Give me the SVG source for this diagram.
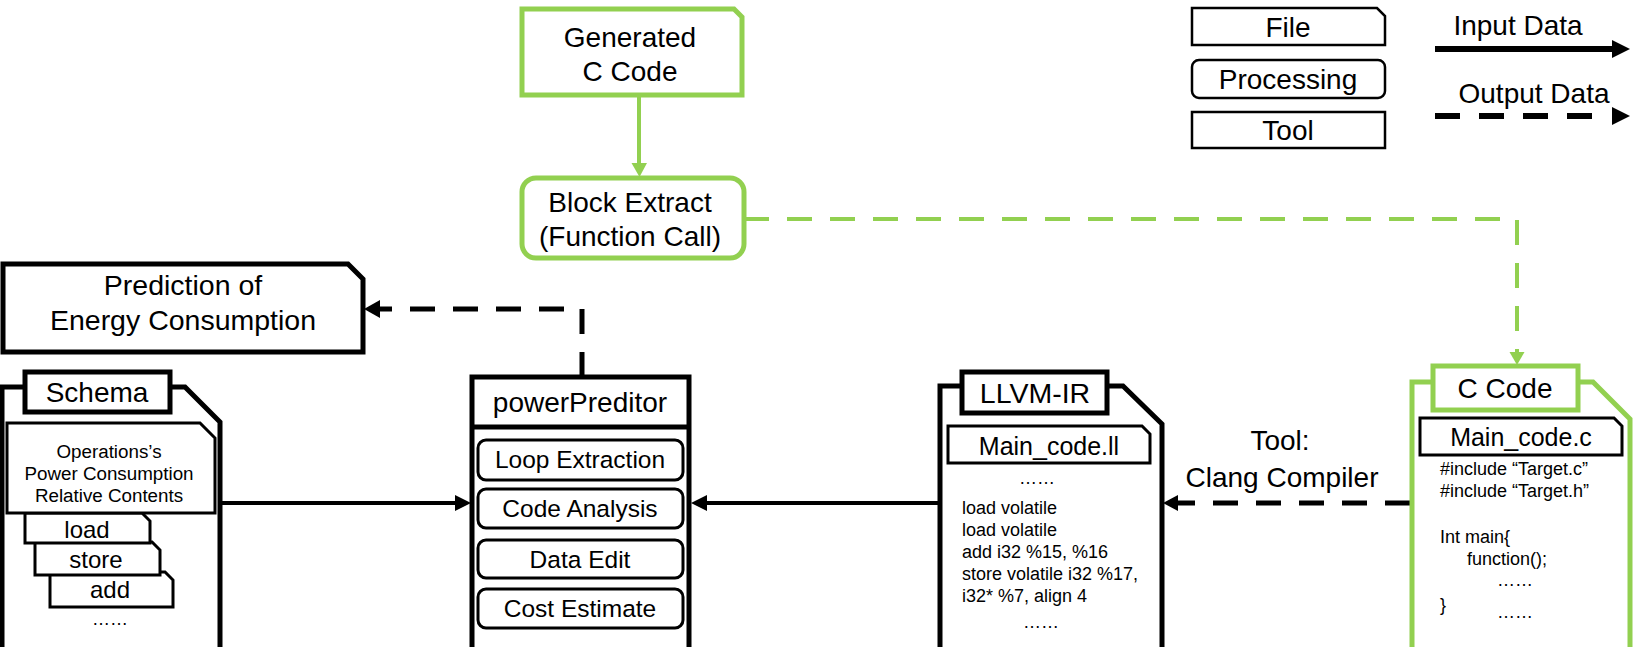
<svg xmlns="http://www.w3.org/2000/svg" width="1650" height="647" viewBox="0 0 1650 647">
<style>
text{font-family:"Liberation Sans",Arial,sans-serif;fill:#000}
.t28{font-size:28px;text-anchor:middle}
.t24{font-size:24.5px;text-anchor:middle}
.t18{font-size:18px}
.c18{font-size:18.8px;text-anchor:middle}
.blk{fill:#fff;stroke:#000;stroke-width:5;stroke-linejoin:miter}
.inr{fill:#fff;stroke:#000;stroke-width:3}
.lg{fill:#fff;stroke:#000;stroke-width:2.5}
.grn{fill:#fff;stroke:#92D050;stroke-width:5}
.ln{fill:none;stroke:#000;stroke-width:4}
.dsh{fill:none;stroke:#000;stroke-width:5;stroke-dasharray:25 18}
.gln{fill:none;stroke:#92D050;stroke-width:4}
.gdsh{fill:none;stroke:#92D050;stroke-width:4;stroke-dasharray:25 18}
.ah{fill:#000}
.gah{fill:#92D050}
</style>
<rect width="1650" height="647" fill="#fff"/>

<g id="legend">
<path class="lg" d="M1192,8 H1377 L1385,16 V45 H1192 Z"/>
<text class="t28" x="1288" y="37">File</text>
<rect class="lg" x="1192" y="60" width="193" height="38" rx="7"/>
<text class="t28" x="1288" y="89">Processing</text>
<rect class="lg" x="1192" y="112" width="193" height="36"/>
<text class="t28" x="1288" y="140">Tool</text>
<text class="t28" x="1518" y="35">Input Data</text>
<line x1="1435" y1="49" x2="1615" y2="49" stroke="#000" stroke-width="6"/>
<polygon class="ah" points="1612,40 1630,49 1612,58"/>
<text class="t28" x="1534" y="103">Output Data</text>
<line x1="1435" y1="116" x2="1600" y2="116" stroke="#000" stroke-width="6" stroke-dasharray="25 19"/>
<polygon class="ah" points="1612,107 1630,116 1612,125"/>
</g>

<g id="connectors">
<line class="gln" x1="639" y1="95" x2="639" y2="165"/>
<polygon class="gah" points="631.5,163 647,163 639.5,177"/>
<path class="gdsh" d="M744,219 H1517 V352"/>
<polygon class="gah" points="1509.5,352 1524.5,352 1517,365"/>
<line class="ln" x1="222" y1="503" x2="457" y2="503"/>
<polygon class="ah" points="455,495 471,503 455,511"/>
<line class="ln" x1="940" y1="503" x2="705" y2="503"/>
<polygon class="ah" points="707,495 691,503 707,511"/>
<path class="dsh" d="M1410,503 H1178"/>
<polygon class="ah" points="1178,495 1163,503 1178,511"/>
<path class="dsh" d="M582,377 V309 H378"/>
<polygon class="ah" points="380,300 364,309 380,318"/>
<text class="t28" x="1280" y="450">Tool:</text>
<text class="t28" x="1282" y="487">Clang Compiler</text>
</g>

<g id="generated">
<path class="grn" d="M522,9 H734 L742,17 V95 H522 Z"/>
<text class="t28" x="630" y="47">Generated</text>
<text class="t28" x="630" y="81">C Code</text>
</g>

<g id="block-extract">
<rect class="grn" x="522" y="178" width="222" height="80" rx="14"/>
<text class="t28" x="630" y="212">Block Extract</text>
<text class="t28" x="630" y="246">(Function Call)</text>
</g>

<g id="prediction">
<path class="blk" d="M3,264 H348 L363,279 V352 H3 Z"/>
<text class="t28" x="183" y="295" style="font-size:28.5px">Prediction of</text>
<text class="t28" x="183" y="330" style="font-size:28.5px">Energy Consumption</text>
</g>

<g id="schema">
<path class="blk" d="M2,660 V387 H185 L220,422 V660"/>
<rect class="blk" x="25" y="372" width="145" height="40"/>
<text class="t28" x="97" y="402">Schema</text>
<path class="inr" d="M50,572 H165 L173,580 V607 H50 Z"/>
<text class="t24" x="110" y="598" style="font-size:24px">add</text>
<path class="inr" d="M35,542 H152 L160,550 V575 H35 Z"/>
<text class="t24" x="96" y="568" style="font-size:24px">store</text>
<path class="inr" d="M25,513 H142 L150,521 V543 H25 Z"/>
<text class="t24" x="87" y="538" style="font-size:24px">load</text>
<path class="inr" d="M7,423 H200 L215,438 V513 H7 Z"/>
<text class="c18" x="109" y="458">Operations’s</text>
<text class="c18" x="109" y="480">Power Consumption</text>
<text class="c18" x="109" y="502">Relative Contents</text>
<text class="c18" x="110" y="625" style="font-size:18px">……</text>
</g>

<g id="power-preditor">
<rect class="blk" x="472" y="377" width="217" height="290"/>
<line x1="472" y1="427" x2="689" y2="427" stroke="#000" stroke-width="5"/>
<text class="t28" x="580" y="412">powerPreditor</text>
<rect class="inr" x="478" y="440" width="205" height="40" rx="8"/>
<text class="t24" x="580" y="468">Loop Extraction</text>
<rect class="inr" x="478" y="489" width="205" height="39" rx="8"/>
<text class="t24" x="580" y="517">Code Analysis</text>
<rect class="inr" x="478" y="540" width="205" height="38" rx="8"/>
<text class="t24" x="580" y="568">Data Edit</text>
<rect class="inr" x="478" y="589" width="205" height="39" rx="8"/>
<text class="t24" x="580" y="617">Cost Estimate</text>
</g>

<g id="llvm-ir">
<path class="blk" d="M940,660 V386 H1123 L1162,424 V660"/>
<rect class="blk" x="962" y="372" width="145" height="41"/>
<text class="t28" x="1035" y="403" style="font-size:28.5px">LLVM-IR</text>
<path class="inr" d="M948,426 H1142 L1150,434 V463 H948 Z"/>
<text class="t24" x="1049" y="455" style="font-size:25px">Main_code.ll</text>
<text class="c18" x="1037" y="484" style="font-size:18px">……</text>
<text class="t18" x="962" y="514">load volatile</text>
<text class="t18" x="962" y="536">load volatile</text>
<text class="t18" x="962" y="558">add i32 %15, %16</text>
<text class="t18" x="962" y="580">store volatile i32 %17,</text>
<text class="t18" x="962" y="602">i32* %7, align 4</text>
<text class="c18" x="1041" y="628" style="font-size:18px">……</text>
</g>

<g id="c-code">
<path class="grn" d="M1412,660 V382 H1593 L1630,419 V660"/>
<rect class="grn" x="1433" y="366" width="145" height="44"/>
<text class="t28" x="1505" y="398">C Code</text>
<path class="inr" d="M1420,418 H1614 L1622,426 V455 H1420 Z"/>
<text class="t24" x="1521" y="446" style="font-size:25px">Main_code.c</text>
<text class="t18" x="1440" y="475">#include “Target.c”</text>
<text class="t18" x="1440" y="497">#include “Target.h”</text>
<text class="t18" x="1440" y="543">Int main{</text>
<text class="t18" x="1467" y="565">function();</text>
<text class="t18" x="1497" y="586">……</text>
<text class="t18" x="1440" y="611">}</text>
<text class="t18" x="1497" y="618">……</text>
</g>
</svg>
